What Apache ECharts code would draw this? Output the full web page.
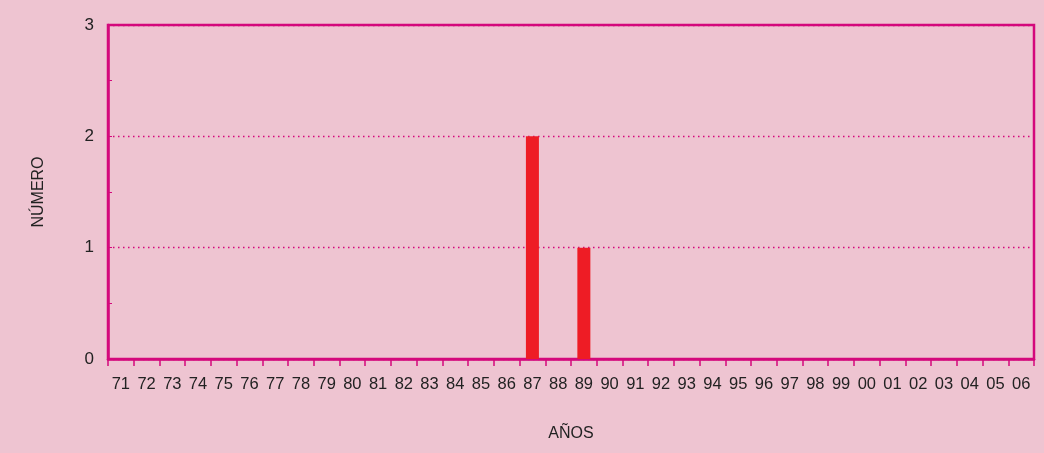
<!DOCTYPE html>
<html><head><meta charset="utf-8">
<script src="https://cdn.jsdelivr.net/npm/echarts@6/dist/echarts.min.js"></script>
<style>html,body{margin:0;padding:0;background:#eec4d1;}#c{width:1044px;height:453px;}</style>
</head><body><div id="c"></div>
<script>
const years = ['71','72','73','74','75','76','77','78','79','80','81','82','83','84','85','86','87','88','89','90','91','92','93','94','95','96','97','98','99','00','01','02','03','04','05','06'];
const counts = [0,0,0,0,0,0,0,0,0,0,0,0,0,0,0,0,2,0,1,0,0,0,0,0,0,0,0,0,0,0,0,0,0,0,0,0];
const yTicks = [0,1,2,3];
const axisColor = '#d4087c';
const chart = echarts.init(document.getElementById('c'), null, {renderer:'canvas'});
chart.setOption({
  backgroundColor:'#eec4d1',
  animation:false,
  grid:{left:108,right:10,top:25,bottom:94,show:true,borderColor:axisColor,borderWidth:2.5,backgroundColor:'transparent'},
  xAxis:{type:'category',data:years,boundaryGap:true,
    name:'AÑOS',nameLocation:'middle',nameGap:67,
    nameTextStyle:{fontFamily:'Liberation Sans',fontSize:16,color:'#222'},
    axisLine:{lineStyle:{color:axisColor,width:2.5}},
    axisTick:{show:true,length:7,lineStyle:{color:axisColor,width:1.5}},
    axisLabel:{fontFamily:'Liberation Sans',fontSize:16.5,color:'#222',margin:17,interval:0}},
  yAxis:{type:'value',min:0,max:3,interval:1,
    name:'NÚMERO',nameLocation:'middle',nameGap:61,nameRotate:90,
    nameTextStyle:{fontFamily:'Liberation Sans',fontSize:16,color:'#222'},
    axisLine:{show:true,lineStyle:{color:axisColor,width:2.5}},
    axisTick:{show:true,inside:true,length:4,lineStyle:{color:axisColor}},
    minorTick:{show:true,splitNumber:2,length:4,lineStyle:{color:axisColor}},
    axisLabel:{fontFamily:'Liberation Sans',fontSize:17,color:'#222',margin:14,
      formatter:v=>yTicks.includes(v)?String(v):''},
    splitLine:{show:true,lineStyle:{color:axisColor,type:[1.5,3.5],width:1.3}}},
  series:[{type:'bar',data:counts,barWidth:13,itemStyle:{color:'#ee1c25'}}]
});
</script></body></html>
